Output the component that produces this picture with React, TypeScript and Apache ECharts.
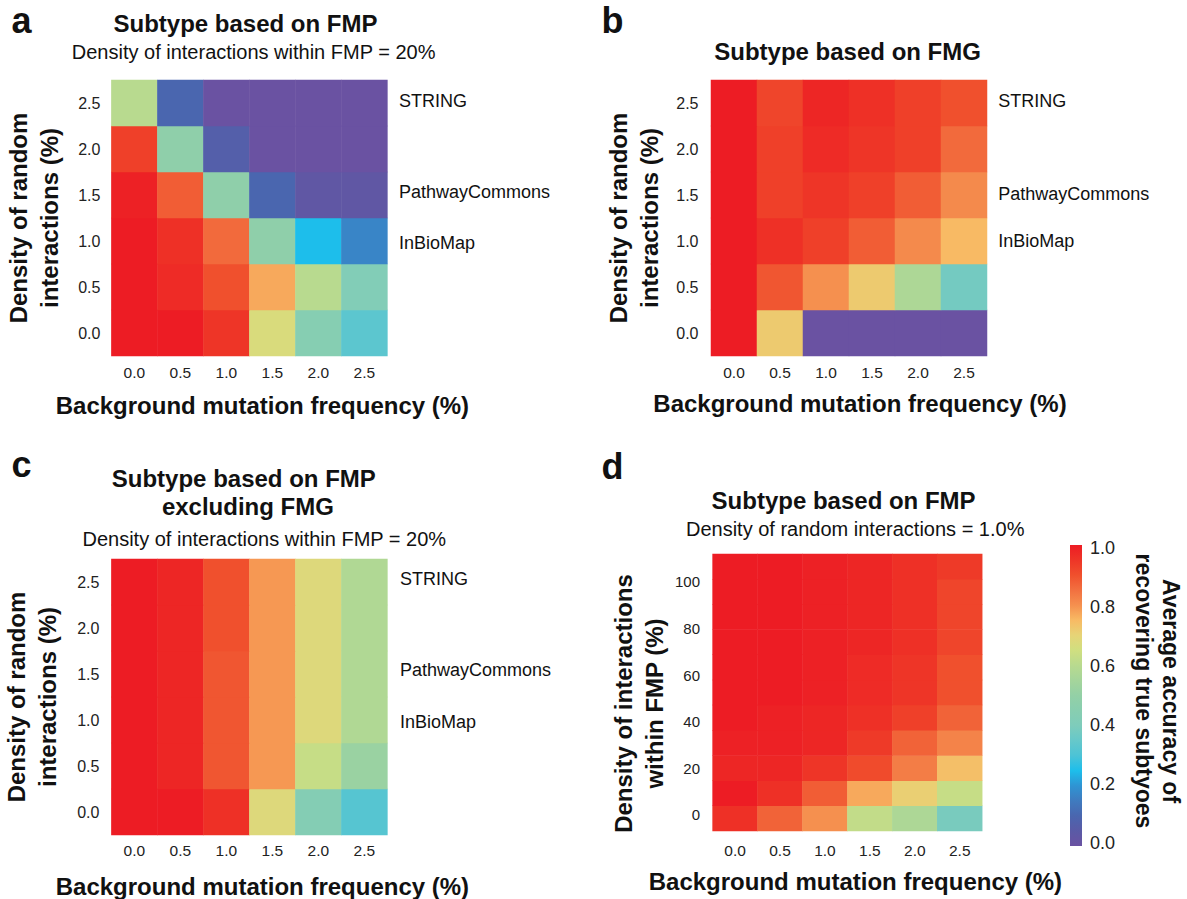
import React, { useEffect, useRef } from "react";
import * as echarts from "echarts";

const FONT = '"Liberation Sans", Arial, Helvetica, sans-serif';

// categories
const X_CATS = ["0.0", "0.5", "1.0", "1.5", "2.0", "2.5"];
const Y_CATS = ["0.0", "0.5", "1.0", "1.5", "2.0", "2.5"];
const D_Y_CATS = ["0", "10", "20", "30", "40", "50", "60", "70", "80", "90", "100"];
const D_Y_TICKS = [0, 20, 40, 60, 80, 100];

// values: rows from bottom (y = first category) to top, columns follow X_CATS
const A_VALUES = [
  [1.0, 1.0, 0.95, 0.67, 0.44, 0.33],
  [1.0, 0.97, 0.9, 0.77, 0.6, 0.42],
  [1.0, 0.96, 0.86, 0.48, 0.25, 0.17],
  [0.99, 0.88, 0.48, 0.1, 0.03, 0.03],
  [0.93, 0.48, 0.07, 0.0, 0.0, 0.0],
  [0.6, 0.1, 0.0, 0.0, 0.0, 0.0],
];
const B_VALUES = [
  [1.0, 0.72, 0.0, 0.0, 0.0, 0.0],
  [1.0, 0.89, 0.8, 0.72, 0.57, 0.38],
  [1.0, 0.96, 0.93, 0.88, 0.81, 0.75],
  [1.0, 0.93, 0.95, 0.93, 0.88, 0.81],
  [1.0, 0.93, 0.97, 0.95, 0.93, 0.86],
  [1.0, 0.92, 0.98, 0.96, 0.93, 0.9],
];
const C_VALUES = [
  [1.0, 1.0, 0.96, 0.68, 0.43, 0.32],
  [1.0, 0.98, 0.89, 0.79, 0.63, 0.52],
  [1.0, 0.98, 0.89, 0.79, 0.68, 0.58],
  [1.0, 0.98, 0.89, 0.79, 0.68, 0.58],
  [1.0, 0.98, 0.9, 0.79, 0.68, 0.58],
  [1.0, 0.98, 0.9, 0.79, 0.68, 0.58],
];
const D_VALUES = [
  [0.96, 0.87, 0.8, 0.62, 0.57, 0.39],
  [1.0, 0.96, 0.88, 0.77, 0.71, 0.63],
  [0.98, 0.98, 0.95, 0.91, 0.83, 0.74],
  [0.99, 0.99, 0.98, 0.94, 0.87, 0.82],
  [1.0, 0.99, 0.98, 0.96, 0.93, 0.87],
  [1.0, 1.0, 0.99, 0.97, 0.95, 0.9],
  [1.0, 1.0, 0.99, 0.97, 0.95, 0.9],
  [1.0, 1.0, 0.99, 0.98, 0.96, 0.92],
  [1.0, 1.0, 0.99, 0.98, 0.96, 0.92],
  [1.0, 1.0, 0.99, 0.98, 0.96, 0.92],
  [1.0, 1.0, 0.99, 0.98, 0.96, 0.94],
];

// colour scale from 0.0 to 1.0 (evenly spaced stops)
const SPECTRAL = [
  "#6A52A2", "#5A5AA6", "#4A66AF", "#3F7BBF", "#2F94D3", "#1DBEEB",
  "#4CC3D6", "#66C8CA", "#7ECCBB", "#88CEB0", "#93D0A6", "#A5D59B",
  "#B8DA8F", "#D0DF80", "#E6D477", "#F8BA64", "#F5904F", "#F27040",
  "#F0502D", "#EE3527", "#ED1C24",
];

const NETWORK_LABELS = ["STRING", "PathwayCommons", "InBioMap"];
const X_NAME = "Background mutation frequency (%)";
const Y_NAME_ABC = "Density of random\ninteractions (%)";
const Y_NAME_D = "Density of interactions\nwithin FMP (%)";
const CBAR_NAME = "Average accuracy of\nrecovering true subtyoes";

function toCells(rows: number[][]) {
  const out: number[][] = [];
  rows.forEach((row, r) => row.forEach((v, c) => out.push([c, r, v])));
  return out;
}

function txt(
  text: string,
  x: number,
  y: number,
  size: number,
  bold: boolean,
  align: string = "center",
  extra: any = {}
) {
  return {
    type: "text",
    x,
    y,
    silent: true,
    ...extra,
    style: {
      text,
      fontSize: size,
      fontWeight: bold ? "bold" : "normal",
      fontFamily: FONT,
      fill: "#111",
      align,
      textAlign: align,
      verticalAlign: "middle",
      textVerticalAlign: "middle",
      lineHeight: extra.lineHeight,
    },
  };
}

export default function App() {
  const ref = useRef<HTMLDivElement>(null);

  useEffect(() => {
    if (!ref.current) return;
    const chart = echarts.init(ref.current, null, { renderer: "svg" });

    const gridDefs = [
      { left: 111.4, top: 80, width: 276, height: 276 },
      { left: 711, top: 80, width: 276, height: 276 },
      { left: 111.4, top: 559, width: 276, height: 276 },
      { left: 712.6, top: 554, width: 269.6, height: 277 },
      { left: 1070, top: 548.3, width: 12, height: 295 },
    ];
    const grid = gridDefs.map((g) => ({ ...g, containLabel: false, outerBoundsMode: "none" }));

    const xLabelMargin = [8, 8, 7, 11];
    const xNameGap = [37, 35, 39.7, 38.7];
    const xNamePad = [26, 22, 26, 16];

    const xAxis: any[] = [0, 1, 2, 3].map((i) => ({
      type: "category",
      gridIndex: i,
      data: X_CATS,
      axisLine: { show: false },
      axisTick: { show: false },
      splitLine: { show: false },
      axisLabel: { fontSize: 15.5, color: "#222", fontFamily: FONT, margin: xLabelMargin[i] },
      name: X_NAME,
      nameLocation: "middle",
      nameGap: xNameGap[i],
      nameTextStyle: {
        fontSize: 24,
        fontWeight: "bold",
        color: "#111",
        fontFamily: FONT,
        padding: [0, 0, 0, xNamePad[i]],
      },
    }));
    xAxis.push({ type: "value", gridIndex: 4, show: false, min: 0, max: 1 });

    const yNameStyle = (padRight: number) => ({
      fontSize: 24,
      fontWeight: "bold",
      color: "#111",
      fontFamily: FONT,
      lineHeight: 31,
      padding: [0, padRight, 0, 0],
    });
    const yLabelMargin = [11, 12.5, 12];
    const yNameGap = [46, 46, 48];

    const yAxis: any[] = [0, 1, 2].map((i) => ({
      type: "category",
      gridIndex: i,
      position: "left",
      data: Y_CATS,
      axisLine: { show: false },
      axisTick: { show: false },
      splitLine: { show: false },
      axisLabel: { fontSize: 16, color: "#222", fontFamily: FONT, margin: yLabelMargin[i] },
      name: Y_NAME_ABC,
      nameLocation: "middle",
      nameRotate: 90,
      nameGap: yNameGap[i],
      nameTextStyle: yNameStyle(0),
    }));
    // panel d: category axis for the cells
    yAxis.push({
      type: "category",
      gridIndex: 3,
      position: "left",
      data: D_Y_CATS,
      show: false,
    });
    // panel d: value axis for tick labels
    yAxis.push({
      type: "value",
      gridIndex: 3,
      position: "left",
      min: -6.86,
      max: 111.9,
      axisLine: { show: false },
      axisTick: { show: false },
      splitLine: { show: false },
      axisLabel: {
        fontSize: 15,
        color: "#222",
        fontFamily: FONT,
        margin: 12.6,
        customValues: D_Y_TICKS,
      },
      name: Y_NAME_D,
      nameLocation: "middle",
      nameRotate: 90,
      nameGap: 42.8,
      nameTextStyle: yNameStyle(22),
    });
    // colour bar axis
    yAxis.push({
      type: "value",
      gridIndex: 4,
      position: "right",
      min: 0,
      max: 1,
      interval: 0.2,
      axisLine: { show: false },
      axisTick: { show: false },
      splitLine: { show: false },
      axisLabel: {
        fontSize: 18,
        color: "#222",
        fontFamily: FONT,
        margin: 8,
        formatter: (v: number) => v.toFixed(1),
      },
    });

    const datasets = [A_VALUES, B_VALUES, C_VALUES, D_VALUES];
    const series: any[] = datasets.map((vals, i) => ({
      type: "heatmap",
      xAxisIndex: i,
      yAxisIndex: i,
      data: toCells(vals),
      emphasis: { disabled: true },
      itemStyle: { borderWidth: 0 },
    }));

    const stops = SPECTRAL.map((c, i) => ({ offset: 1 - i / (SPECTRAL.length - 1), color: c })).reverse();

    const graphic: any[] = [
      // panel letters
      txt("a", 11.5, 20.8, 36, true, "left"),
      txt("b", 601.5, 20.8, 36, true, "left"),
      txt("c", 11.5, 464.5, 36, true, "left"),
      txt("d", 601.5, 466.5, 36, true, "left"),
      // titles
      txt("Subtype based on FMP", 245.5, 23, 24, true),
      txt("Density of interactions within FMP = 20%", 253.6, 52, 20, false),
      txt("Subtype based on FMG", 847.6, 51.7, 24, true),
      txt("Subtype based on FMP", 243.8, 478.3, 24, true),
      txt("excluding FMG", 247.9, 506.7, 24, true),
      txt("Density of interactions within FMP = 20%", 264.3, 539.3, 20, false),
      txt("Subtype based on FMP", 843.6, 500, 24, true),
      txt("Density of random interactions = 1.0%", 855.2, 529.3, 20, false),
      // network annotations
      txt(NETWORK_LABELS[0], 399, 101, 18, false, "left"),
      txt(NETWORK_LABELS[1], 399, 191.7, 18, false, "left"),
      txt(NETWORK_LABELS[2], 399, 243.3, 18, false, "left"),
      txt(NETWORK_LABELS[0], 998.2, 101, 18, false, "left"),
      txt(NETWORK_LABELS[1], 998.2, 194.3, 18, false, "left"),
      txt(NETWORK_LABELS[2], 998.2, 240.7, 18, false, "left"),
      txt(NETWORK_LABELS[0], 400, 579.3, 18, false, "left"),
      txt(NETWORK_LABELS[1], 400, 670, 18, false, "left"),
      txt(NETWORK_LABELS[2], 400, 721.7, 18, false, "left"),
      // colour bar
      {
        type: "rect",
        silent: true,
        shape: { x: 1070, y: 545, width: 12, height: 301 },
        style: { fill: new echarts.graphic.LinearGradient(0, 0, 0, 1, stops) },
      },
      txt(CBAR_NAME, 1157, 691, 23, true, "center", { rotation: -Math.PI / 2, lineHeight: 27 }),
    ];

    chart.setOption({
      animation: false,
      backgroundColor: "#ffffff",
      textStyle: { fontFamily: FONT },
      grid,
      xAxis,
      yAxis,
      visualMap: {
        type: "continuous",
        show: false,
        min: 0,
        max: 1,
        seriesIndex: [0, 1, 2, 3],
        inRange: { color: SPECTRAL },
      },
      series,
      graphic,
    });

    return () => chart.dispose();
  }, []);

  return (
    <div
      ref={ref}
      style={{ position: "absolute", left: 0, top: 0, width: 1187, height: 899, background: "#fff" }}
    />
  );
}
